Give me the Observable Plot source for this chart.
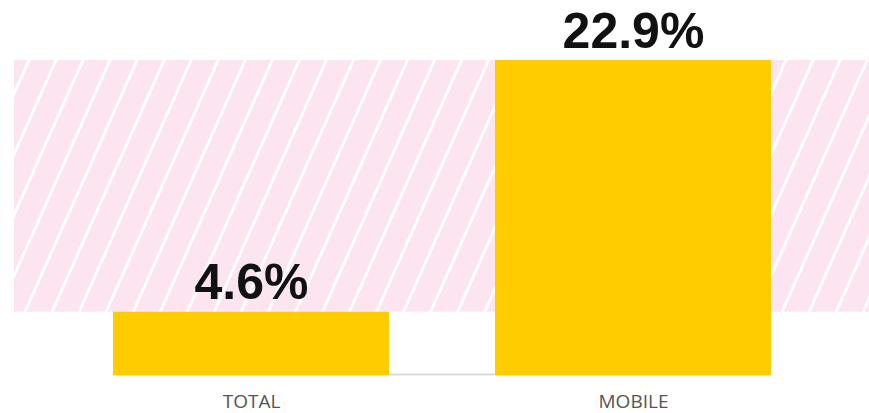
<!DOCTYPE html>
<html><head><meta charset="utf-8">
<script src="https://cdn.jsdelivr.net/npm/d3@7"></script>
<script src="https://cdn.jsdelivr.net/npm/@observablehq/plot@0.6"></script>
<style>body{margin:0;background:#fff}</style>
</head><body><div id="chart"></div>
<script>
const categories = ["TOTAL", "MOBILE"];
const values = [4.6, 22.9];
const valueLabels = ["4.6%", "22.9%"];

const data = categories.map((c, i) => ({category: c, value: values[i], label: valueLabels[i]}));
const band = [{y1: values[0], y2: values[1]}];
const base = [{y: 0, a: categories[0], b: categories[1]}];

const chart = Plot.plot({
  width: 869, height: 413,
  marginTop: 60, marginBottom: 38, marginLeft: 14, marginRight: 0,
  style: {fontFamily: "'Open Sans', sans-serif", background: "#fff"},
  x: {domain: categories, paddingInner: 0.278, paddingOuter: 0.2555, axis: null},
  y: {domain: [0, 22.9], axis: null},
  marks: [
    Plot.rect(band, {y1: "y1", y2: "y2", fill: "url(#hatch)"}),
    Plot.ruleY(base, {y: "y", x1: "a", x2: "b", stroke: "#d9d9d9", strokeWidth: 2, dy: -1}),
    Plot.barY(data, {x: "category", y: "value", fill: "#ffcc00"}),
    Plot.text(data, {x: "category", y: "value", text: "label", lineAnchor: "bottom", dy: -13,
      fontSize: 50, fontWeight: 700, fill: "#111", fontFamily: "'Liberation Sans', Arial, sans-serif"}),
    Plot.axisX({tickSize: 0, tickPadding: 19, fontSize: 19, fill: "#555", label: null})
  ]
});
d3.select(chart).insert("defs", ":first-child").html(
  `<pattern id="hatch" patternUnits="userSpaceOnUse" width="24.7" height="24.7" patternTransform="rotate(24)">
     <rect width="24.7" height="24.7" fill="#fce4f1"/>
     <rect x="0" width="3" height="24.7" fill="#ffffff"/>
   </pattern>`);
document.getElementById("chart").appendChild(chart);
</script>
</body></html>
